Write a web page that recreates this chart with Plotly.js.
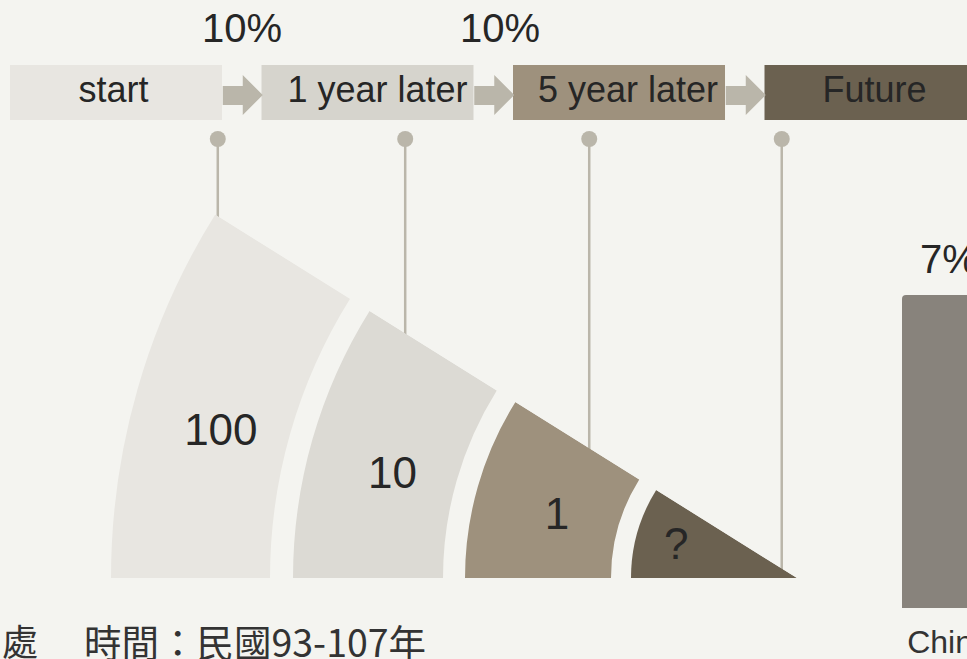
<!DOCTYPE html>
<html><head><meta charset="utf-8">
<script src="https://cdn.plot.ly/plotly-3.0.1.min.js"></script>
<style>html,body{margin:0;padding:0;background:#f4f4f0;} #chart{width:967px;height:659px;}</style>
</head><body><div id="chart"></div>
<script>
// ---- data ----
const stages = ['start', '1 year later', '5 year later', 'Future'];
const stageRates = ['10%', '10%'];
const segmentLabels = ['100', '10', '1', '?'];
const segmentInner = [527, 354, 186, 0];
const segmentOuter = [686, 504, 332, 166];
const sideCategories = ['China'];
const sideValues = [7];
const sideLabels = ['7%'];
const noteLeft = '處';
const noteRight = '時間：民國93-107年';

// ---- style / layout helpers ----
const W = 967, H = 659;
const FONT = 'Liberation Sans, Arial, sans-serif';
const CJK = 'Noto Sans CJK TC, Noto Sans, sans-serif';
const TXT = '#262626';
const stageColors = ['#e8e6e1', '#d6d4cd', '#9e917d', '#6b6150'];
const segmentColors = ['#e8e6e1', '#dcdad4', '#9e917d', '#6b6150'];
const stageTextShift = [-0.01, 0.04, 0.036, 0.016];
const arrowColor = '#bab6aa';
const px = x => x / W;
const py = y => 1 - y / H;

// top stage strip axis: unit = 251.5 px, stage 0 centred at 116 px
const U = 251.5, X0 = 116;
const topRange = [-X0 / U, (W - X0) / U];
const boxTop = 65, boxBot = 120;

// polar funnel geometry
const CX = 797, CY = 578, R = 690, SPAN = 32;
const rad = SPAN * Math.PI / 180;
const polarDomX = [px(CX - R), px(CX)];
const polarDomY = [py(CY), py(CY - R * Math.sin(rad))];

const traces = [];
// stage boxes
traces.push({
  type: 'bar', x: stages.map((_, i) => i), y: stages.map(() => 1), base: 0,
  width: 212 / U, marker: {color: stageColors, line: {width: 0}},
  xaxis: 'x', yaxis: 'y', hoverinfo: 'skip', showlegend: false
});
traces.push({
  type: 'scatter', mode: 'text', x: stages.map((_, i) => i + stageTextShift[i]), y: stages.map(() => 0.5),
  text: stages, textfont: {family: FONT, size: 36, color: TXT},
  xaxis: 'x', yaxis: 'y', hoverinfo: 'skip', showlegend: false, cliponaxis: false
});
// funnel segments
traces.push({
  type: 'barpolar', theta: segmentLabels.map(() => 180 - SPAN / 2), r: segmentOuter.map((o, i) => o - segmentInner[i]),
  base: segmentInner, width: segmentLabels.map(() => SPAN),
  marker: {color: segmentColors, line: {width: 0}}, hoverinfo: 'skip', showlegend: false, subplot: 'polar'
});
traces.push({
  type: 'scatterpolar', mode: 'text',
  r: segmentOuter.map((o, i) => segmentInner[i] > 0 ? segmentInner[i] + 0.42 * (o - segmentInner[i]) : 0.75 * o),
  theta: segmentLabels.map(() => 180 - 14), text: segmentLabels,
  textfont: {family: FONT, size: 44, color: TXT}, hoverinfo: 'skip', showlegend: false, subplot: 'polar'
});
// side bar (cropped chart on the right)
traces.push({
  type: 'bar', x: sideCategories, y: sideValues, width: 1, cliponaxis: false,
  marker: {color: '#88837c', cornerradius: 4, line: {width: 0}},
  xaxis: 'x2', yaxis: 'y2', hoverinfo: 'skip', showlegend: false
});

// decorative shapes: arrows and connectors
const shapes = [];
for (let i = 0; i < stages.length - 1; i++) {
  const m = i + 0.5;
  const a = -19 / U, b = 1 / U, c = 21 / U;
  const s0 = (boxBot - 105) / 55, s1 = (boxBot - 86) / 55, h0 = (boxBot - 115) / 55, h1 = (boxBot - 75) / 55, hm = (h0 + h1) / 2;
  shapes.push({
    type: 'path', xref: 'x', yref: 'y', layer: 'above', line: {width: 0}, fillcolor: arrowColor,
    path: `M${m + a},${s0}L${m + b},${s0}L${m + b},${h0}L${m + c},${hm}L${m + b},${h1}L${m + b},${s1}L${m + a},${s1}Z`
  });
}
const connectorR = [683, 462, 245, 18];
const dotY = 139;
connectorR.forEach(r => {
  const x = CX - r * Math.cos(rad), y = CY - r * Math.sin(rad);
  shapes.push({type: 'line', xref: 'paper', yref: 'paper', layer: 'below', x0: px(x), x1: px(x), y0: py(dotY), y1: py(y + 2), line: {color: arrowColor, width: 2.5}});
  shapes.push({type: 'circle', xref: 'paper', yref: 'paper', layer: 'above', x0: px(x - 8), x1: px(x + 8), y0: py(dotY + 8), y1: py(dotY - 8), line: {width: 0}, fillcolor: arrowColor});
});

const annotations = [];
stageRates.forEach((t, i) => annotations.push({
  text: t, xref: 'x', yref: 'paper', x: i + 0.5 + 0.025 * i, y: py(28), xanchor: 'center', yanchor: 'middle',
  showarrow: false, font: {family: FONT, size: 40, color: TXT}
}));
sideLabels.forEach((t, i) => annotations.push({
  text: t, xref: 'x2', yref: 'paper', x: sideCategories[i], y: py(259), xanchor: 'center', yanchor: 'middle',
  showarrow: false, font: {family: FONT, size: 40, color: TXT}
}));
annotations.push({text: noteLeft, xref: 'paper', yref: 'paper', x: 0, y: py(640), xanchor: 'left', yanchor: 'middle', showarrow: false, font: {family: CJK, size: 36, color: '#333'}});
annotations.push({text: noteRight, xref: 'paper', yref: 'paper', x: px(82), y: py(640), xanchor: 'left', yanchor: 'middle', showarrow: false, font: {family: CJK, size: 37.5, color: '#333'}});

const sideLeft = 902, sideW = 94;
const layout = {
  width: W, height: H, margin: {l: 0, r: 0, t: 0, b: 0},
  paper_bgcolor: '#f4f4f0', plot_bgcolor: 'rgba(0,0,0,0)', showlegend: false,
  xaxis: {domain: [0, 1], range: topRange, visible: false, fixedrange: true},
  yaxis: {domain: [py(boxBot), py(0)], range: [0, boxBot / (boxBot - boxTop)], visible: false, fixedrange: true},
  xaxis2: {domain: [px(870), 1], anchor: 'y2', type: 'category',
    range: [-0.5 - (sideLeft - 870) / sideW, -0.5 + (W - sideLeft) / sideW],
    showgrid: false, zeroline: false, showline: false, ticks: '', ticklabelstandoff: 12,
    tickfont: {family: FONT, size: 32, color: '#333'}, fixedrange: true},
  yaxis2: {domain: [py(608), py(295)], anchor: 'x2', range: [0, 7], visible: false, fixedrange: true},
  polar: {
    domain: {x: polarDomX, y: polarDomY}, sector: [180 - SPAN, 180], bgcolor: 'rgba(0,0,0,0)', barmode: 'overlay',
    radialaxis: {visible: false, range: [0, R]},
    angularaxis: {visible: false, rotation: 0, direction: 'counterclockwise'}
  },
  shapes: shapes, annotations: annotations
};
Plotly.newPlot('chart', traces, layout, {staticPlot: true, displayModeBar: false});
</script></body></html>
